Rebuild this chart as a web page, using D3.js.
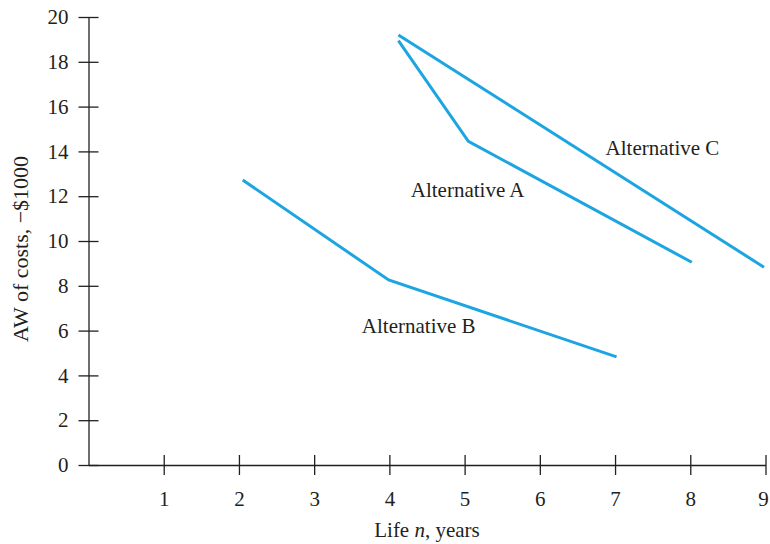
<html lang="en">
<head>
<meta charset="UTF-8">
<title>AW of costs vs life</title>
<script src="https://d3js.org/d3.v7.min.js"></script>
<style>
  body { margin: 0; background: #fff; }
  text { font-family: "Liberation Serif", "Times New Roman", serif; fill: #231f20; }
</style>
</head>
<body>
<div id="chart"></div>
<script>
// values (life in years, AW of costs in $1000)
const xTicks = [1, 2, 3, 4, 5, 6, 7, 8, 9];
const yTicks = [0, 2, 4, 6, 8, 10, 12, 14, 16, 18, 20];

const altA = [[4.12, 18.95], [5.05, 14.45], [8.02, 9.05]];
const altB = [[2.05, 12.72], [3.99, 8.26], [7.02, 4.83]];
const altC = [[4.12, 19.2], [8.98, 8.83]];

const seriesNames = ["Alternative A", "Alternative B", "Alternative C"];
const labelPos = [[5.04, 12.2], [4.39, 6.1], [7.63, 14.05]];

const W = 770, H = 544;
const svg = d3.select("#chart")
  .append("svg")
  .attr("width", W)
  .attr("height", H);

const x = d3.scaleLinear().domain([0, 9]).range([88.5, 765.5]);
const y = d3.scaleLinear().domain([0, 20]).range([465, 17]);

const ink = "#231f20";
const fs = 21;

// y axis
const yAxis = svg.append("g")
  .attr("transform", `translate(${x(0)},0)`)
  .call(d3.axisLeft(y).tickValues(yTicks).tickSize(10).tickPadding(10).tickSizeOuter(0));
yAxis.select(".domain").attr("stroke", ink).attr("stroke-width", 1.3);
yAxis.selectAll(".tick line").attr("x2", 10).attr("x1", -10).attr("stroke", ink).attr("stroke-width", 1.3);
yAxis.selectAll(".tick text").attr("font-size", fs).style("font-family", "Liberation Serif").attr("fill", ink);

// x axis
const xAxis = svg.append("g")
  .attr("transform", `translate(0,${y(0)})`)
  .call(d3.axisBottom(x).tickValues(xTicks).tickSize(10).tickPadding(16).tickSizeOuter(0));
xAxis.select(".domain").attr("stroke", ink).attr("stroke-width", 1.3);
xAxis.selectAll(".tick line").attr("y1", -10).attr("y2", 10).attr("stroke", ink).attr("stroke-width", 1.3);
xAxis.selectAll(".tick text").attr("font-size", fs).style("font-family", "Liberation Serif").attr("fill", ink)
  .attr("dx", d => d === 9 ? -2.5 : 0); // last label sits at the page edge

// lines
const line = d3.line().x(d => x(d[0])).y(d => y(d[1]));
svg.selectAll(".alt")
  .data([altA, altB, altC])
  .enter()
  .append("path")
    .attr("class", "alt")
    .attr("d", line)
    .attr("fill", "none")
    .attr("stroke", "#1ca5e0")
    .attr("stroke-width", 3);

// labels
svg.selectAll(".lbl")
  .data(seriesNames)
  .enter()
  .append("text")
    .attr("class", "lbl")
    .attr("x", (d, i) => x(labelPos[i][0]))
    .attr("y", (d, i) => y(labelPos[i][1]))
    .attr("text-anchor", "middle")
    .attr("dominant-baseline", "middle")
    .attr("font-size", fs)
    .text(d => d);

// axis titles
const xt = svg.append("text")
  .attr("x", 427)
  .attr("y", 537)
  .attr("text-anchor", "middle")
  .attr("font-size", fs);
xt.append("tspan").text("Life ");
xt.append("tspan").attr("font-style", "italic").text("n");
xt.append("tspan").text(", years");

svg.append("text")
  .attr("transform", "translate(28,249) rotate(-90)")
  .attr("text-anchor", "middle")
  .attr("font-size", 22)
  .text("AW of costs, \u2212$1000");
</script>
</body>
</html>
